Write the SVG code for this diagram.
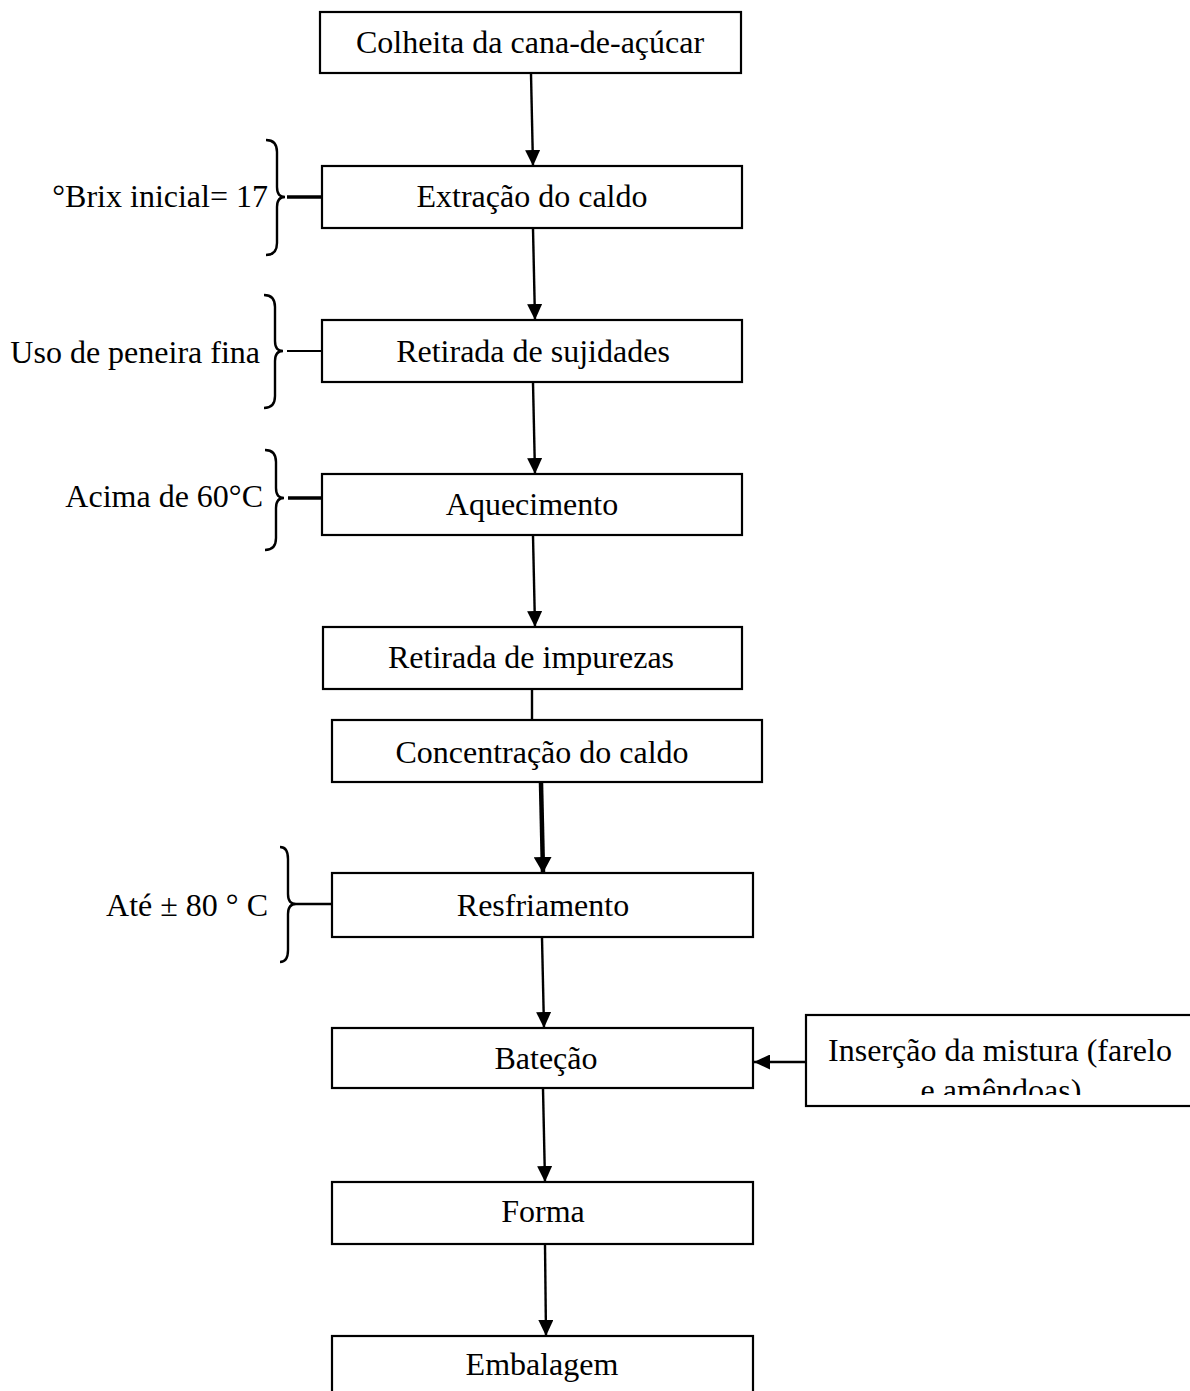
<svg xmlns="http://www.w3.org/2000/svg" width="1190" height="1391" viewBox="0 0 1190 1391">
<style>
.box{fill:#fff;stroke:#000;stroke-width:2.2}
.t{font-family:"Liberation Serif","Times New Roman",serif;font-size:32px;fill:#000;text-anchor:middle}
.s{font-family:"Liberation Serif","Times New Roman",serif;font-size:32px;fill:#000;text-anchor:end}
.ln{fill:none;stroke:#000;stroke-width:2.4}
.br{fill:none;stroke:#000;stroke-width:2.4}
</style>
<defs>
<marker id="ah" viewBox="0 0 16 15" refX="16" refY="7.5" markerWidth="16" markerHeight="15" markerUnits="userSpaceOnUse" orient="auto">
<path d="M0,0 L16,7.5 L0,15 Z" fill="#000"/>
</marker>
<marker id="ah2" viewBox="0 0 16 18" refX="16" refY="9" markerWidth="16" markerHeight="18" markerUnits="userSpaceOnUse" orient="auto">
<path d="M0,0 L16,9 L0,18 Z" fill="#000"/>
</marker>
<clipPath id="clipIns"><rect x="806" y="1015" width="384" height="80"/></clipPath>
</defs>
<rect width="1190" height="1391" fill="#fff"/>

<g id="connectors">
<line class="ln" x1="531" y1="74" x2="533" y2="166" marker-end="url(#ah)"/>
<line class="ln" x1="533" y1="229" x2="535" y2="320" marker-end="url(#ah)"/>
<line class="ln" x1="533" y1="383" x2="535" y2="474" marker-end="url(#ah)"/>
<line class="ln" x1="533" y1="536" x2="535" y2="627" marker-end="url(#ah)"/>
<line class="ln" x1="532" y1="689" x2="532" y2="720"/>
<line class="ln" x1="541" y1="783" x2="543" y2="873" style="stroke-width:4.5" marker-end="url(#ah2)"/>
<line class="ln" x1="542" y1="938" x2="544" y2="1028" marker-end="url(#ah)"/>
<line class="ln" x1="806" y1="1062" x2="754" y2="1062" marker-end="url(#ah)"/>
<line class="ln" x1="543" y1="1089" x2="545" y2="1182" marker-end="url(#ah)"/>
<line class="ln" x1="545" y1="1245" x2="546" y2="1336" marker-end="url(#ah)"/>
<line class="ln" x1="287" y1="197" x2="322" y2="197" style="stroke-width:3.4"/>
<line class="ln" x1="287" y1="351" x2="322" y2="351" style="stroke-width:1.8"/>
<line class="ln" x1="288" y1="498" x2="322" y2="498" style="stroke-width:3.4"/>
<line class="ln" x1="296" y1="904" x2="332" y2="904"/>
</g>

<g id="n1"><rect class="box" x="320" y="12" width="421" height="61"/><text class="t" x="530" y="53">Colheita da cana-de-açúcar</text></g>
<g id="n2"><rect class="box" x="322" y="166" width="420" height="62"/><text class="t" x="532" y="207">Extração do caldo</text></g>
<g id="n3"><rect class="box" x="322" y="320" width="420" height="62"/><text class="t" x="533" y="362">Retirada de sujidades</text></g>
<g id="n4"><rect class="box" x="322" y="474" width="420" height="61"/><text class="t" x="532" y="515">Aquecimento</text></g>
<g id="n5"><rect class="box" x="323" y="627" width="419" height="62"/><text class="t" x="531" y="668">Retirada de impurezas</text></g>
<g id="n6"><rect class="box" x="332" y="720" width="430" height="62"/><text class="t" x="542" y="763">Concentração do caldo</text></g>
<g id="n7"><rect class="box" x="332" y="873" width="421" height="64"/><text class="t" x="543" y="916">Resfriamento</text></g>
<g id="n8"><rect class="box" x="332" y="1028" width="421" height="60"/><text class="t" x="546" y="1069">Bateção</text></g>
<g id="n9"><rect class="box" x="806" y="1015" width="390" height="91"/>
<g clip-path="url(#clipIns)"><text class="t" x="1000" y="1061">Inserção da mistura (farelo</text><text class="t" x="1001" y="1101">e amêndoas)</text></g></g>
<g id="n10"><rect class="box" x="332" y="1182" width="421" height="62"/><text class="t" x="543" y="1222">Forma</text></g>
<g id="n11"><rect class="box" x="332" y="1336" width="421" height="70"/><text class="t" x="542" y="1375">Embalagem</text></g>

<g id="a1"><path class="br" d="M266,140 Q277,140 277,152 L277,187 Q277,197 285,197 Q277,197 277,207 L277,243 Q277,255 266,255"/><text class="s" x="268" y="207">°Brix inicial= 17</text></g>
<g id="a2"><path class="br" d="M264,295 Q275,295 275,307 L275,341 Q275,351 283,351 Q275,351 275,361 L275,396 Q275,408 264,408"/><text class="s" x="260" y="363">Uso de peneira fina</text></g>
<g id="a3"><path class="br" d="M265,450 Q276,450 276,462 L276,488 Q276,498 284,498 Q276,498 276,508 L276,538 Q276,550 265,550"/><text class="s" x="263" y="507">Acima de 60°C</text></g>
<g id="a4"><path class="br" d="M280,847 Q288,847 288,859 L288,894 Q288,904 296,904 Q288,904 288,914 L288,950 Q288,962 280,962"/><text class="s" x="268" y="916">Até ± 80 ° C</text></g>
</svg>
